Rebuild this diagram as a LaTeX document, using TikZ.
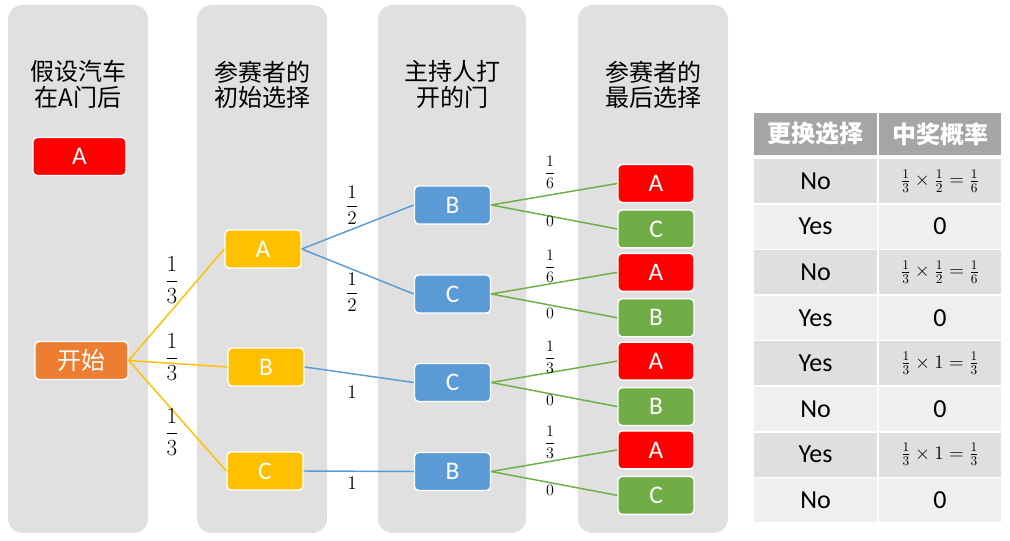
\documentclass[tikz,border=0pt]{standalone}
\usepackage{amsmath}
\usepackage{fontspec}
\setmainfont{Carlito}
\newfontfamily\cjk{Noto Sans CJK SC}
\usepackage{tikz}
\usetikzlibrary{positioning}
\definecolor{colbg}{RGB}{224,224,224}
\definecolor{carred}{RGB}{255,0,0}
\definecolor{startorange}{RGB}{237,125,49}
\definecolor{pickyellow}{RGB}{255,192,0}
\definecolor{hostblue}{RGB}{91,155,213}
\definecolor{finalgreen}{RGB}{112,173,71}
\definecolor{thead}{RGB}{165,165,165}
\definecolor{tdark}{RGB}{223,223,223}
\definecolor{tlight}{RGB}{239,239,239}

\begin{document}
\begin{tikzpicture}[
  x=0.75pt, y=-0.75pt,
  col/.style={fill=colbg, rounded corners=11pt},
  head/.style={font=\cjk\fontsize{18}{19}\selectfont, align=center},
  box/.style={draw=white, line width=1.1pt, rounded corners=3pt, minimum width=57pt, minimum height=28.5pt, inner sep=0pt, text=white, font=\fontsize{19}{21}\selectfont},
  wide/.style={minimum width=69.75pt},
  link/.style={line width=1.1pt},
  bigfrac/.style={font=\fontsize{16.5}{18}\selectfont},
  midfrac/.style={font=\fontsize{14}{16}\selectfont},
  smallfrac/.style={font=\fontsize{13}{15}\selectfont},
  thd/.style={fill=thead, text=white, minimum height=31.5pt, inner sep=0pt, font=\cjk\bfseries\fontsize{18}{20}\selectfont},
  tleft/.style={minimum width=92.25pt, minimum height=33pt, inner sep=0pt, font=\fontsize{19.5}{22}\selectfont},
  tright/.style={minimum width=91.5pt, minimum height=33pt, inner sep=0pt, font=\fontsize{19.5}{22}\selectfont},
  prob/.style={font=\fontsize{14}{16}\selectfont}
]
\useasboundingbox (0,0) rectangle (1010,541);

\fill[col] (8,5) rectangle (148,533);
\fill[col] (197,5) rectangle (327,533);
\fill[col] (378,5) rectangle (526,533);
\fill[col] (578,5) rectangle (728,533);

\node[head] (t1) at (78,84.5) {假设汽车\\在A门后};
\node[head] (t2) at (262,84.5) {参赛者的\\初始选择};
\node[head] (t3) at (452,84.5) {主持人打\\开的门};
\node[head] (t4) at (653,84.5) {参赛者的\\最后选择};

\node[box, wide, fill=carred] (car) at (79.5,156.5) {A};
\node[box, wide, fill=startorange, font=\cjk\fontsize{18}{20}\selectfont] (start) at (81.5,360.5) {开始};

\node[box, fill=pickyellow] (pA) at (263,249) {A};
\node[box, fill=pickyellow] (pB) at (266,367) {B};
\node[box, fill=pickyellow] (pC) at (265,471) {C};

\node[box, fill=hostblue] (oB1) at (452.5,205) {B};
\node[box, fill=hostblue] (oC1) at (452.5,294) {C};
\node[box, fill=hostblue] (oC2) at (452.5,382.5) {C};
\node[box, fill=hostblue] (oB2) at (452.5,471.5) {B};

\node[box, fill=carred] (fA1) at (656,183.5) {A};
\node[box, fill=finalgreen, below=4.5pt of fA1] (fC1) {C};
\node[box, fill=carred] (fA2) at (656,272.3) {A};
\node[box, fill=finalgreen, below=4.5pt of fA2] (fB2) {B};
\node[box, fill=carred] (fA3) at (656,361.1) {A};
\node[box, fill=finalgreen, below=4.5pt of fA3] (fB3) {B};
\node[box, fill=carred] (fA4) at (656,449.9) {A};
\node[box, fill=finalgreen, below=4.5pt of fA4] (fC4) {C};

\draw[link, pickyellow] (start.east) -- (pA.west);
\draw[link, pickyellow] (start.east) -- (pB.west);
\draw[link, pickyellow] (start.east) -- (pC.west);
\draw[link, hostblue] (pA.east) -- (oB1.west);
\draw[link, hostblue] (pA.east) -- (oC1.west);
\draw[link, hostblue] (pB.east) -- (oC2.west);
\draw[link, hostblue] (pC.east) -- (oB2.west);
\draw[link, finalgreen] (oB1.east) -- (fA1.west);
\draw[link, finalgreen] (oB1.east) -- (fC1.west);
\draw[link, finalgreen] (oC1.east) -- (fA2.west);
\draw[link, finalgreen] (oC1.east) -- (fB2.west);
\draw[link, finalgreen] (oC2.east) -- (fA3.west);
\draw[link, finalgreen] (oC2.east) -- (fB3.west);
\draw[link, finalgreen] (oB2.east) -- (fA4.west);
\draw[link, finalgreen] (oB2.east) -- (fC4.west);

\node[bigfrac] (qA) at (172,280) {$\dfrac{1}{3}$};
\node[bigfrac] (qB) at (172,357) {$\dfrac{1}{3}$};
\node[bigfrac] (qC) at (172,432) {$\dfrac{1}{3}$};
\node[midfrac] (qAB) at (352,205) {$\dfrac{1}{2}$};
\node[midfrac] (qAC) at (352,292) {$\dfrac{1}{2}$};
\node[midfrac] (qBC) at (352,392) {$1$};
\node[midfrac] (qCB) at (352,483) {$1$};
\node[smallfrac] (r1) at (550,172) {$\dfrac{1}{6}$};
\node[smallfrac] (r2) at (550,221) {$0$};
\node[smallfrac] (r3) at (550,266) {$\dfrac{1}{6}$};
\node[smallfrac] (r4) at (550,313) {$0$};
\node[smallfrac] (r5) at (550,357) {$\dfrac{1}{3}$};
\node[smallfrac] (r6) at (550,400) {$0$};
\node[smallfrac] (r7) at (550,442) {$\dfrac{1}{3}$};
\node[smallfrac] (r8) at (550,490) {$0$};

\node[thd, minimum width=92.25pt] (hsw) at (815.5,134) {更换选择};
\node[thd, minimum width=91.5pt] (hwin) at (940,134) {中奖概率};
\node[tleft, fill=tdark] (s1) at (815.5,181) {No};
\node[tright, fill=tdark, prob] (w1) at (940,181) {$\frac{1}{3}\times\frac{1}{2}=\frac{1}{6}$};
\node[tleft, fill=tlight] (s2) at (815.5,226.6) {Yes};
\node[tright, fill=tlight] (w2) at (940,226.6) {0};
\node[tleft, fill=tdark] (s3) at (815.5,272.2) {No};
\node[tright, fill=tdark, prob] (w3) at (940,272.2) {$\frac{1}{3}\times\frac{1}{2}=\frac{1}{6}$};
\node[tleft, fill=tlight] (s4) at (815.5,317.8) {Yes};
\node[tright, fill=tlight] (w4) at (940,317.8) {0};
\node[tleft, fill=tdark] (s5) at (815.5,363.4) {Yes};
\node[tright, fill=tdark, prob] (w5) at (940,363.4) {$\frac{1}{3}\times1=\frac{1}{3}$};
\node[tleft, fill=tlight] (s6) at (815.5,409) {No};
\node[tright, fill=tlight] (w6) at (940,409) {0};
\node[tleft, fill=tdark] (s7) at (815.5,454.6) {Yes};
\node[tright, fill=tdark, prob] (w7) at (940,454.6) {$\frac{1}{3}\times1=\frac{1}{3}$};
\node[tleft, fill=tlight] (s8) at (815.5,500.2) {No};
\node[tright, fill=tlight] (w8) at (940,500.2) {0};

\end{tikzpicture}
\end{document}
